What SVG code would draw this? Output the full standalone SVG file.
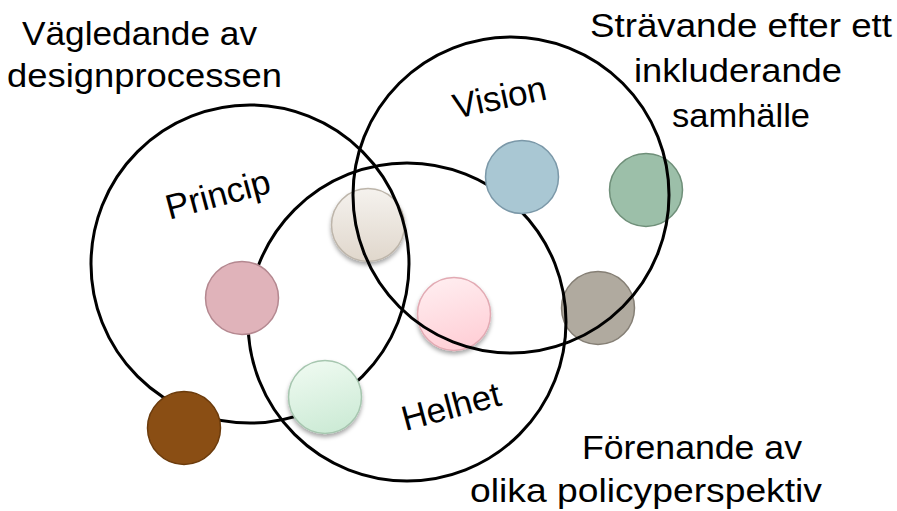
<svg xmlns="http://www.w3.org/2000/svg" width="897" height="511" viewBox="0 0 897 511">
<style>
.big{fill:none;stroke:#000;stroke-width:3}
.t{font-family:"Liberation Sans",Arial,sans-serif;font-size:34px;fill:#000}
.lbl{font-family:"Liberation Sans",Arial,sans-serif;font-size:35px;fill:#000;text-anchor:middle}
.dot{stroke-width:1.5}
</style>
<defs>
<linearGradient id="gBeige" x1="0" y1="0" x2="0" y2="1"><stop offset="0" stop-color="#f5f2ee"/><stop offset="1" stop-color="#e0d7cc"/></linearGradient>
<linearGradient id="gPink" x1="0" y1="0" x2="0.3" y2="1"><stop offset="0" stop-color="#fff0f2"/><stop offset="1" stop-color="#ffd1d8"/></linearGradient>
<linearGradient id="gGreen" x1="0.2" y1="0" x2="0.5" y2="1"><stop offset="0" stop-color="#effaf1"/><stop offset="1" stop-color="#cdebd6"/></linearGradient>
<filter id="sh" x="-30%" y="-30%" width="160%" height="170%"><feDropShadow dx="0" dy="3" stdDeviation="2" flood-color="#000" flood-opacity="0.35"/></filter>
</defs>
<g id="under-dots">
<circle cx="368" cy="225" r="36.5" fill="url(#gBeige)" stroke="#bdb5aa" class="dot" filter="url(#sh)"/>
<circle cx="454" cy="314" r="36.5" fill="url(#gPink)" stroke="#e2aab3" class="dot" filter="url(#sh)"/>
<circle cx="646" cy="190" r="36.5" fill="#9cbfa9" stroke="#6f8f79" class="dot"/>
<circle cx="598" cy="308" r="36.5" fill="#b0aa9f" stroke="#857f75" class="dot"/>
</g>
<g id="connectors">
<circle id="principCircle" class="big" cx="250" cy="264" r="159"/>
<circle id="visionCircle" class="big" cx="511" cy="195" r="158"/>
<circle id="helhetCircle" class="big" cx="407" cy="322" r="159"/>
</g>
<g id="over-dots">
<circle cx="242" cy="298" r="36.5" fill="#e0b3ba" stroke="#b48890" class="dot"/>
<circle cx="522" cy="177" r="36.5" fill="#a9c7d3" stroke="#7b98a8" class="dot"/>
<circle cx="184" cy="428" r="36.5" fill="#8a4e14" stroke="#6b3b0c" class="dot"/>
<circle cx="325" cy="397" r="36.5" fill="url(#gGreen)" stroke="#a6c6af" class="dot" filter="url(#sh)"/>
</g>
<g id="labels">
<text class="lbl" transform="translate(221,206) rotate(-15)">Princip</text>
<text class="lbl" transform="translate(502,109) rotate(-12)">Vision</text>
<text class="lbl" transform="translate(454,418) rotate(-15)">Helhet</text>
</g>
<g id="annotations">
<text class="t" x="22" y="45" textLength="235" lengthAdjust="spacingAndGlyphs">Vägledande av</text>
<text class="t" x="7" y="87" textLength="275" lengthAdjust="spacingAndGlyphs">designprocessen</text>
<text class="t" x="590" y="37" textLength="302" lengthAdjust="spacingAndGlyphs">Strävande efter ett</text>
<text class="t" x="634" y="82" textLength="208" lengthAdjust="spacingAndGlyphs">inkluderande</text>
<text class="t" x="672" y="127" textLength="138" lengthAdjust="spacingAndGlyphs">samhälle</text>
<text class="t" x="582" y="459" textLength="220" lengthAdjust="spacingAndGlyphs">Förenande av</text>
<text class="t" x="470" y="502" textLength="352" lengthAdjust="spacingAndGlyphs">olika policyperspektiv</text>
</g>
</svg>
